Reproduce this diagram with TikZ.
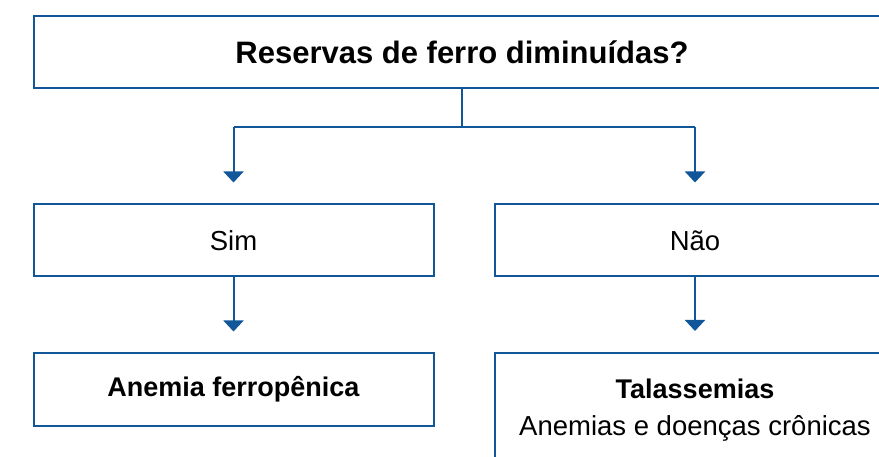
\documentclass[tikz,border=0pt]{standalone}
\usepackage{fontspec}
\setmainfont{Liberation Sans}
\usetikzlibrary{arrows.meta}
\definecolor{boxblue}{RGB}{16,86,153}
\tikzset{box/.style={rectangle,draw=boxblue,line width=2pt,minimum width=400pt,minimum height=72pt,inner sep=0pt,align=center,font=\fontsize{27.5}{37}\selectfont},
  arrow/.style={draw=boxblue,line width=2pt,-{Triangle[width=20pt,length=11pt]}},
  link/.style={draw=boxblue,line width=1.5pt}}

\begin{document}
\begin{tikzpicture}[x=1pt,y=-1pt]
    \path[use as bounding box, clip] (0,0) rectangle (879,457);

    \node [box, minimum width=856pt, font=\fontsize{31}{36}\selectfont\bfseries] (question) at (462,52) {Reservas de ferro diminuídas?};

    \node [box] (sim) at (233.5,240.5) {Sim};
    \node [box] (nao) at (695,240.5) {Não};

    \node [box, font=\fontsize{27}{37}\selectfont\bfseries] (ferropenica) at (233.5,389.5) {Anemia ferropênica};
    \node [box, minimum height=114pt] (talassemias) at (695,410) {\textbf{\fontsize{27}{37}\selectfont Talassemias}\\
        Anemias e doenças crônicas};

    % split below the question
    \coordinate (split) at (462,127);
    \draw [link] (question.south -| split) -- (split);
    \draw [link] (sim.north |- split) -- (nao.north |- split);
    \draw [arrow] (sim.north |- split) -- ([yshift=21pt]sim.north);
    \draw [arrow] (nao.north |- split) -- ([yshift=21pt]nao.north);

    \draw [arrow] (sim.south) -- ([yshift=21pt]ferropenica.north);
    \draw [arrow] (nao.south) -- ([yshift=21pt]talassemias.north);
\end{tikzpicture}
\end{document}
